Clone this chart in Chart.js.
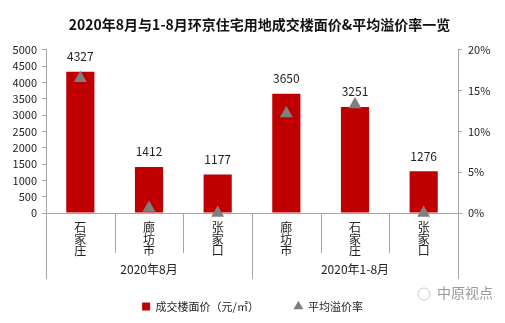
<!DOCTYPE html>
<html>
<head>
<meta charset="utf-8">
<script src="https://cdn.jsdelivr.net/npm/chart.js@4"></script>
<style>
  body { margin: 0; background: #fff; }
  canvas { display: block; }
</style>
</head>
<body>
<canvas id="myChart" width="505" height="323"></canvas>
<script>
// chart data
const categories = [["石", "家", "庄"], ["廊", "坊", "市"], ["张", "家", "口"], ["廊", "坊", "市"], ["石", "家", "庄"], ["张", "家", "口"]];
const groups = ["2020年8月", "2020年1-8月"];
const groupSizes = [3, 3];
const floorPrice = [4327, 1412, 1177, 3650, 3251, 1276];
const premiumRate = [16.5, 0.6, 0, 12.2, 13.3, 0];
const leftTicks = [0, 500, 1000, 1500, 2000, 2500, 3000, 3500, 4000, 4500, 5000];
const rightTicks = [0, 5, 10, 15, 20];

const axisGray = "#a6a6a6";
const fontFamily = "'Noto Sans CJK SC', 'Microsoft YaHei', sans-serif";

// value labels, separators, group names, watermark
const extras = {
  id: "extras",
  afterDatasetsDraw(chart) {
    const ctx = chart.ctx;
    const meta = chart.getDatasetMeta(0);
    ctx.save();
    ctx.fillStyle = "#222";
    ctx.font = "12px " + fontFamily;
    ctx.textAlign = "center";
    ctx.textBaseline = "middle";
    meta.data.forEach((bar, i) => {
      ctx.fillText(String(floorPrice[i]), bar.x, bar.y - 15);
    });
    ctx.restore();
  },
  afterDraw(chart) {
    const ctx = chart.ctx;
    const x = chart.scales.x;
    const area = chart.chartArea;
    const step = x.width / categories.length;
    ctx.save();
    ctx.strokeStyle = axisGray;
    ctx.lineWidth = 1;
    // group boundaries
    const bounds = [0];
    groupSizes.forEach((n) => bounds.push(bounds[bounds.length - 1] + n));
    for (let i = 0; i <= categories.length; i++) {
      const px = Math.round(x.getPixelForValue(i) - step / 2) + 0.5;
      const len = bounds.includes(i) ? 66 : 40;
      ctx.beginPath();
      ctx.moveTo(px, area.bottom);
      ctx.lineTo(px, area.bottom + len);
      ctx.stroke();
    }
    ctx.fillStyle = "#222";
    ctx.font = "12px " + fontFamily;
    ctx.textAlign = "center";
    ctx.textBaseline = "middle";
    groups.forEach((g, k) => {
      const a = x.getPixelForValue(bounds[k]) - step / 2;
      const b = x.getPixelForValue(bounds[k + 1] - 1) + step / 2;
      ctx.fillText(g, (a + b) / 2, area.bottom + 56);
    });
    // watermark
    ctx.fillStyle = "#9a9a9a";
    ctx.font = "14px " + fontFamily;
    ctx.fillText("中原视点", 465, 293);
    ctx.strokeStyle = "#c8c8c8";
    ctx.beginPath();
    ctx.arc(424, 294, 6, 0, Math.PI * 2);
    ctx.stroke();
    ctx.restore();
  },
};

const ctx1 = document.getElementById("myChart").getContext("2d");

new Chart(ctx1, {
  data: {
    labels: categories,
    datasets: [
      {
        type: "bar",
        label: "成交楼面价（元/㎡）　　　",
        data: floorPrice,
        yAxisID: "y",
        backgroundColor: "#c00000",
        pointStyle: "rect",
        barPercentage: 0.41,
        categoryPercentage: 1,
        order: 1,
      },
      {
        type: "line",
        label: "平均溢价率",
        data: premiumRate,
        yAxisID: "y2",
        showLine: false,
        pointStyle: "triangle",
        pointRadius: 7.5,
        pointHoverRadius: 7.5,
        backgroundColor: "#7f7f7f",
        borderColor: "#7f7f7f",
        borderWidth: 0,
        clip: false,
        order: 0,
      },
    ],
  },
  options: {
    responsive: false,
    animation: false,
    layout: { padding: { left: 0, right: 0, top: 0, bottom: 1 } },
    plugins: {
      title: {
        display: true,
        text: "　2020年8月与1-8月环京住宅用地成交楼面价&平均溢价率一览",
        color: "#111",
        font: { family: fontFamily, size: 14, weight: "bold", lineHeight: 1.2 },
        padding: { top: 16, bottom: 17 },
      },
      legend: {
        position: "bottom",
        labels: {
          usePointStyle: true,
          boxWidth: 8,
          boxHeight: 8,
          padding: 8,
          color: "#222",
          font: { family: fontFamily, size: 11 },
          sort: (a, b) => a.datasetIndex - b.datasetIndex,
        },
      },
      tooltip: { enabled: false },
    },
    scales: {
      x: {
        grid: { display: false, drawTicks: false },
        border: { display: true, color: axisGray },
        ticks: {
          color: "#222",
          padding: 9,
          maxRotation: 0,
          autoSkip: false,
          font: { family: fontFamily, size: 12, lineHeight: 0.95 },
        },
        afterFit(scale) { scale.height = 80; },
      },
      y: {
        position: "left",
        min: 0,
        max: 5000,
        afterBuildTicks(scale) { scale.ticks = leftTicks.map((v) => ({ value: v })); },
        grid: { drawOnChartArea: false, tickLength: 4, color: axisGray },
        border: { color: axisGray },
        ticks: {
          color: "#222",
          padding: 5,
          font: { family: fontFamily, size: 11 },
          callback: (v) => String(v),
        },
        afterFit(scale) { scale.width = 46; },
      },
      y2: {
        position: "right",
        min: 0,
        max: 20,
        afterBuildTicks(scale) { scale.ticks = rightTicks.map((v) => ({ value: v })); },
        grid: { drawOnChartArea: false, tickLength: 4, color: axisGray },
        border: { color: axisGray },
        ticks: {
          color: "#222",
          padding: 6,
          font: { family: fontFamily, size: 11 },
          callback: (v) => v + "%",
        },
        afterFit(scale) { scale.width = 47; },
      },
    },
  },
  plugins: [extras],
});
</script>
</body>
</html>
